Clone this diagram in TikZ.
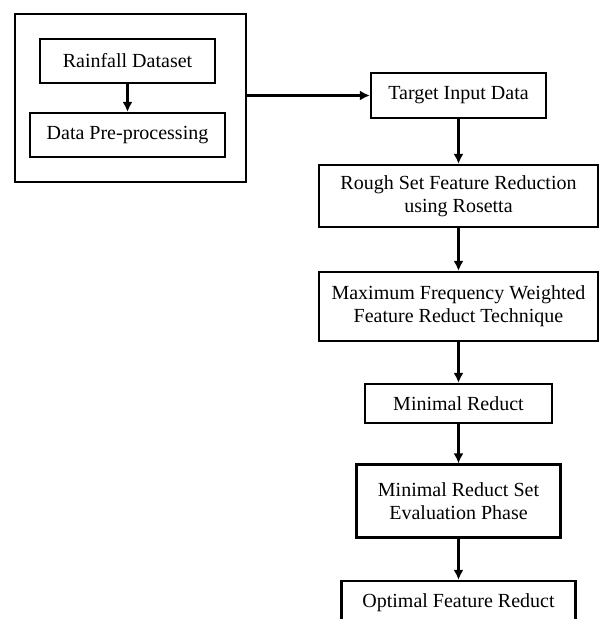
\documentclass[tikz,border=0pt]{standalone}
\usepackage{fontspec}
\setmainfont{Liberation Serif}
\usetikzlibrary{arrows}
\usetikzlibrary{arrows.meta, calc, positioning}

\begin{document}
\begin{tikzpicture}[>={Latex[length=5pt,width=5pt]}, x=0.5pt, y=-0.5pt, line width=1.1pt,
  box/.style={draw, inner sep=0pt, align=center, font=\fontsize{10}{11.5}\selectfont}]
\useasboundingbox (0,0) rectangle (598,619);
\node[box, minimum width=115.5pt, minimum height=84pt] at (130.5,98) (frame) {};
\node[box, minimum width=87.5pt, minimum height=22pt] at (127.5,61) (rain) {Rainfall Dataset};
\node[box, minimum width=97.5pt, minimum height=22pt] at (127.5,135) (prep) {Data Pre-processing};
\node[box, minimum width=87.5pt, minimum height=22.5pt] at (458.5,95.5) (tgt) {Target Input Data};
\node[box, minimum width=139.5pt, minimum height=31pt] at (458.5,196) (rough) {Rough Set Feature Reduction\\using Rosetta};
\node[box, minimum width=139.5pt, minimum height=34.5pt] at (458.5,306.5) (mfw) {Maximum Frequency Weighted\\Feature Reduct Technique};
\node[box, minimum width=93.5pt, minimum height=19.5pt] at (458.5,403.5) (minr) {Minimal Reduct};
\node[box, minimum width=102pt, minimum height=36.5pt] at (458.5,501) (eval) {Minimal Reduct Set\\Evaluation Phase};
\node[box, minimum width=117pt, minimum height=22pt] at (458.5,603) (opt) {Optimal Feature Reduct};
\draw[->] (rain) -- (prep);
\draw[->] (frame.east |- tgt) -- (tgt);
\draw[->] (tgt) -- (rough);
\draw[->] (rough) -- (mfw);
\draw[->] (mfw) -- (minr);
\draw[->] (minr) -- (eval);
\draw[->] (eval) -- (opt);
%\draw[->] (opt) -- (out);
\end{tikzpicture}
\end{document}
